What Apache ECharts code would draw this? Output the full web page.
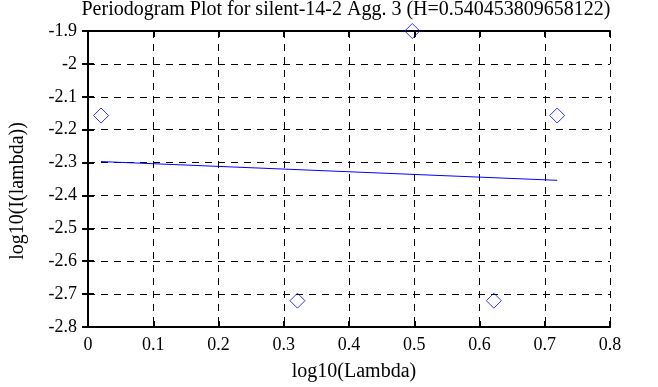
<!DOCTYPE html>
<html><head><meta charset="utf-8">
<script src="https://cdn.jsdelivr.net/npm/echarts@6/dist/echarts.min.js"></script>
<style>html,body{margin:0;padding:0;background:#fff}#c{width:658px;height:387px}</style>
</head><body><div id="c"></div>
<script>
var titleText = 'Periodogram Plot for silent-14-2 Agg. 3 (H=0.540453809658122)';
var logLambda = [0.020, 0.321, 0.497, 0.622, 0.719];
var logI = [-2.157, -2.720, -1.900, -2.720, -2.157];
var fitX = [0.020, 0.719];
var fitY = [-2.297, -2.354];
var xTicks = [0, 0.1, 0.2, 0.3, 0.4, 0.5, 0.6, 0.7, 0.8];
var yTicks = [-2.8, -2.7, -2.6, -2.5, -2.4, -2.3, -2.2, -2.1, -2, -1.9];

var font = 'Liberation Serif';
var fmt = function (v) { return String(Math.round(v * 10) / 10); };
var frame = {lineStyle: {color: '#000', width: 2}};
var chart = echarts.init(document.getElementById('c'));
chart.setOption({
  animation: false,
  title: {text: titleText, left: 346, textAlign: 'center', top: 0, padding: 0,
    textStyle: {fontFamily: font, fontWeight: 'normal', fontSize: 20, color: '#000'}},
  grid: {left: 82, top: 31, right: 48, bottom: 56},
  xAxis: [{
    type: 'value', min: xTicks[0], max: xTicks[xTicks.length - 1], interval: 0.1,
    name: 'log10(Lambda)', nameLocation: 'middle', nameGap: 35,
    nameTextStyle: {fontFamily: font, fontSize: 20, color: '#000', padding: [0, 0, 0, 10]},
    axisLine: frame, axisTick: {inside: true, length: 6, lineStyle: {color: '#000', width: 2}},
    axisLabel: {formatter: fmt, fontFamily: font, fontSize: 18, color: '#000', margin: 9},
    splitLine: {show: true, lineStyle: {color: '#000', type: [7, 6], width: 1}}
  }, {
    type: 'value', position: 'top', min: xTicks[0], max: xTicks[xTicks.length - 1], interval: 0.1,
    axisLine: frame, axisTick: {inside: true, length: 6, lineStyle: {color: '#000', width: 2}},
    axisLabel: {show: false}, splitLine: {show: false}
  }],
  yAxis: [{
    type: 'value', min: yTicks[0], max: yTicks[yTicks.length - 1], interval: 0.1,
    name: 'log10(I(lambda))', nameLocation: 'middle', nameGap: 60, nameRotate: 90,
    nameTextStyle: {fontFamily: font, fontSize: 20, color: '#000', padding: [0, 24, 0, 0]},
    axisLine: frame, axisTick: {inside: true, length: 6, lineStyle: {color: '#000', width: 2}},
    axisLabel: {formatter: fmt, fontFamily: font, fontSize: 18, color: '#000', margin: 11},
    splitLine: {show: true, lineStyle: {color: '#000', type: [7, 6], width: 1}}
  }, {
    type: 'value', position: 'right', min: yTicks[0], max: yTicks[yTicks.length - 1], interval: 0.1,
    axisLine: frame, axisTick: {inside: true, length: 6, lineStyle: {color: '#000', width: 2}},
    axisLabel: {show: false}, splitLine: {show: false}
  }],
  series: [{
    type: 'scatter', symbol: 'diamond', symbolSize: 15,
    itemStyle: {color: 'transparent', borderColor: '#0000ff', borderWidth: 1},
    data: logLambda.map(function (x, i) { return [x, logI[i]]; }),
    z: 5
  }, {
    type: 'line', showSymbol: false, symbol: 'none',
    lineStyle: {color: '#0000ff', width: 1},
    data: fitX.map(function (x, i) { return [x, fitY[i]]; })
  }]
});
</script></body></html>
